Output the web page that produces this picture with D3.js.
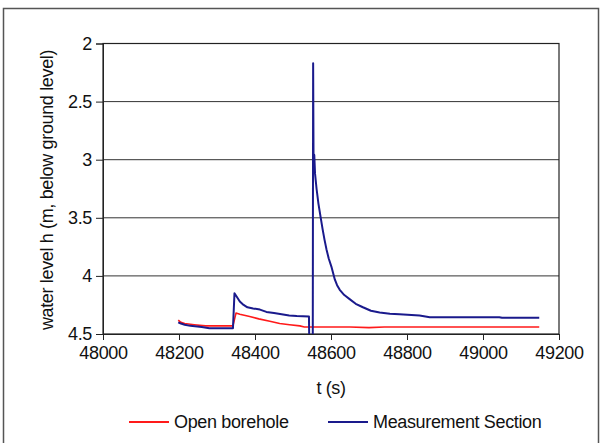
<!DOCTYPE html>
<html>
<head>
<meta charset="utf-8">
<script src="https://cdn.jsdelivr.net/npm/d3@7"></script>
<style>
  body { margin: 0; background: #fff; }
  text { font-family: "Liberation Sans", Arial, sans-serif; fill: #111; letter-spacing: -0.35px; }
</style>
</head>
<body>
<div id="chart"></div>
<script>
// Water level in borehole: open borehole vs. measurement section
// Values read off the reference picture

const xTicks = [48000, 48200, 48400, 48600, 48800, 49000, 49200];
const yTicks = [2, 2.5, 3, 3.5, 4, 4.5];

// Open borehole (red)
const openTime  = [48198, 48205, 48215, 48240, 48270, 48342, 48350, 48360, 48386, 48410, 48439, 48465, 48491, 48518, 48530, 48650, 48700, 48740, 49148];
const openLevel = [4.38, 4.40, 4.41, 4.42, 4.43, 4.43, 4.32, 4.33, 4.35, 4.37, 4.39, 4.41, 4.42, 4.43, 4.44, 4.44, 4.445, 4.44, 4.44];

// Measurement section (blue)
const measTime  = [48198, 48205, 48215, 48230, 48260, 48280, 48342, 48346, 48352, 48360, 48370, 48380, 48395, 48413, 48430, 48450, 48470, 48490, 48510, 48542,
                   48543, 48552, 48553, 48554, 48556, 48558, 48562, 48567, 48573, 48578, 48583, 48588, 48594, 48601, 48610, 48616, 48623, 48635, 48649, 48665,
                   48684, 48705, 48728, 48755, 48780, 48833, 48860, 49043, 49050, 49148];
const measLevel = [4.40, 4.41, 4.42, 4.43, 4.44, 4.45, 4.45, 4.15, 4.18, 4.22, 4.25, 4.27, 4.28, 4.29, 4.31, 4.32, 4.33, 4.34, 4.345, 4.35,
                   4.62, 4.62, 2.17, 2.95, 2.96, 3.12, 3.25, 3.38, 3.50, 3.60, 3.69, 3.77, 3.85, 3.92, 4.03, 4.08, 4.12, 4.165, 4.20, 4.24,
                   4.27, 4.30, 4.315, 4.325, 4.33, 4.34, 4.355, 4.355, 4.36, 4.36];

const seriesNames = ["Open borehole", "Measurement Section"];
const seriesColors = ["#ff1a1a", "#1a1a8c"];
const seriesWidths = [1.6, 2];

const width = 602;
const height = 443;
const margin = {top: 43.5, right: 43, bottom: 109, left: 103};
const innerWidth = 559 - margin.left;
const innerHeight = 334 - margin.top;

const svg = d3.select("#chart")
    .append("svg")
    .attr("width", width)
    .attr("height", height);

// outer frame
svg.append("rect")
    .attr("x", 3.5)
    .attr("y", 8.5)
    .attr("width", 595)
    .attr("height", 440)
    .attr("fill", "none")
    .attr("stroke", "#555")
    .attr("stroke-width", 1.5);

const chart = svg.append("g")
    .attr("transform", `translate(${margin.left}, ${margin.top})`);

const xScale = d3.scaleLinear().domain([48000, 49200]).range([0, innerWidth]);
const yScale = d3.scaleLinear().domain([2, 4.5]).range([0, innerHeight]);

// gridlines
chart.selectAll("line.grid")
    .data(yTicks.slice(1, -1))
    .enter()
    .append("line")
    .attr("class", "grid")
    .attr("x1", 0)
    .attr("x2", innerWidth)
    .attr("y1", d => yScale(d))
    .attr("y2", d => yScale(d))
    .attr("stroke", "#333")
    .attr("stroke-width", 1);

// plot border
chart.append("rect")
    .attr("width", innerWidth)
    .attr("height", innerHeight)
    .attr("fill", "none")
    .attr("stroke", "#222")
    .attr("stroke-width", 1.2);

chart.append("clipPath")
    .attr("id", "plotclip")
    .append("rect")
    .attr("width", innerWidth)
    .attr("height", innerHeight);

const xAxis = d3.axisBottom(xScale).tickValues(xTicks).tickSize(6).tickPadding(6).tickFormat(d3.format("d"));
const gx = chart.append("g")
    .attr("transform", `translate(0, ${innerHeight})`)
    .call(xAxis);
gx.select(".domain").attr("stroke", "#222");
gx.selectAll("line").attr("stroke", "#222");
gx.selectAll("text").style("font-size", "18px").attr("fill", "#111");

const yAxis = d3.axisLeft(yScale).tickValues(yTicks).tickSize(7).tickPadding(4).tickFormat(d => d);
const gy = chart.append("g").call(yAxis);
gy.select(".domain").attr("stroke", "#222");
gy.selectAll("line").attr("stroke", "#222");
gy.selectAll("text").style("font-size", "18px").attr("fill", "#111");

// series lines
const line = d3.line()
    .x(d => xScale(d[0]))
    .y(d => yScale(d[1]));

const series = [
    openTime.map((t, i) => [t, openLevel[i]]),
    measTime.map((t, i) => [t, measLevel[i]])
];

chart.append("g")
    .attr("clip-path", "url(#plotclip)")
    .selectAll("path.series")
    .data(series)
    .enter()
    .append("path")
    .attr("class", "series")
    .attr("d", line)
    .attr("fill", "none")
    .attr("stroke", (d, i) => seriesColors[i])
    .attr("stroke-width", (d, i) => seriesWidths[i])
    .attr("stroke-linejoin", "round");

// axis titles
svg.append("text")
    .attr("x", 331)
    .attr("y", 394)
    .attr("text-anchor", "middle")
    .style("font-size", "18px")
    .text("t (s)");

svg.append("text")
    .attr("transform", "rotate(-90)")
    .attr("x", -190)
    .attr("y", 53)
    .attr("text-anchor", "middle")
    .style("font-size", "18px")
    .text("water level h (m, below ground level)");

// legend
const legendX = [129, 328];
const legend = svg.selectAll("g.legend")
    .data(seriesNames)
    .enter()
    .append("g")
    .attr("class", "legend")
    .attr("transform", (d, i) => `translate(${legendX[i]}, 422)`);

legend.append("line")
    .attr("x1", 0)
    .attr("x2", 40)
    .attr("stroke", (d, i) => seriesColors[i])
    .attr("stroke-width", 1.8);

legend.append("text")
    .attr("x", 45)
    .attr("y", 6)
    .style("font-size", "18px")
    .text(d => d);
</script>
</body>
</html>
